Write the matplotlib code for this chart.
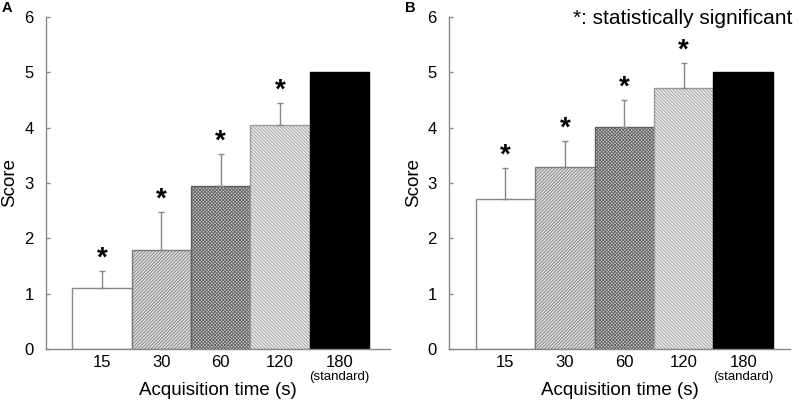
import matplotlib
matplotlib.use("Agg")
import matplotlib.pyplot as plt

plt.rcParams['font.family'] = ['Liberation Sans', 'DejaVu Sans']
plt.rcParams['hatch.linewidth'] = 0.6

categories = ["15", "30", "60", "120", "180"]
scores_a = [1.10, 1.79, 2.95, 4.05, 5.0]
err_a = [0.31, 0.69, 0.58, 0.39, 0.0]
sig_a = [True, True, True, True, False]
scores_b = [2.71, 3.28, 4.01, 4.71, 5.0]
err_b = [0.56, 0.48, 0.49, 0.46, 0.0]
sig_b = [True, True, True, True, False]

hatches = [None, "//////////", "xxxxxxxxxx", "\\\\\\\\\\\\\\\\\\\\", None]
faces = ["white", "#e0e0e0", "#d0d0d0", "#ececec", "black"]
hatch_cols = ["#888888", "#7a7a7a", "#606060", "#9a9a9a", "black"]

fig = plt.figure(figsize=(8.0, 4.03), dpi=100)
axA = fig.add_axes([0.0575, 0.134, 0.43, 0.824])
axB = fig.add_axes([0.5616, 0.134, 0.426, 0.824])

def draw(ax, scores, errs, sig, xlim):
    x = list(range(len(categories)))
    for i in x:
        ec = hatch_cols[i] if hatches[i] else ("#888888" if faces[i] == "white" else "black")
        ax.bar(i, scores[i], width=1.0, color=faces[i], edgecolor=ec,
               linewidth=1.0, hatch=hatches[i], zorder=2)
        if errs[i] > 0:
            ax.errorbar(i, scores[i], yerr=[[0], [errs[i]]], fmt='none',
                        ecolor="#888888", elinewidth=1.0, capsize=2, capthick=1.0, zorder=3)
        if sig[i]:
            ax.text(i, scores[i] + errs[i] + 0.22, "*", ha='center', va='center',
                    fontsize=20, fontweight='bold', color='black')
    ax.set_ylim(0, 6)
    ax.set_xlim(*xlim)
    ax.set_yticks(range(7))
    ax.set_xticks(x)
    ax.set_xticklabels(categories, fontsize=12)
    ax.tick_params(axis='x', length=0, labelsize=12, pad=4)
    ax.tick_params(axis='y', direction='in', length=3, width=1.0, color="#888888",
                   labelsize=12, pad=9)
    ax.text(4, -0.5, "(standard)", ha='center', va='center', fontsize=9.5)
    for s in ['top', 'right']:
        ax.spines[s].set_visible(False)
    for s in ['left', 'bottom']:
        ax.spines[s].set_color("#888888")
        ax.spines[s].set_linewidth(1.0)
    ax.set_xlabel("Acquisition time (s)", fontsize=13.5, labelpad=9)
    ax.set_ylabel("Score", fontsize=13.5, labelpad=4)

draw(axA, scores_a, err_a, sig_a, (-0.94, 4.85))
draw(axB, scores_b, err_b, sig_b, (-0.944, 4.79))

fig.text(0.002, 0.98, "A", fontsize=10.5, fontweight='bold', va='center')
fig.text(0.506, 0.98, "B", fontsize=10.5, fontweight='bold', va='center')
axB.text(1.008, 0.995, "*: statistically significant", transform=axB.transAxes,
         ha='right', va='center', fontsize=15)

fig.savefig("out.png", dpi=100)
